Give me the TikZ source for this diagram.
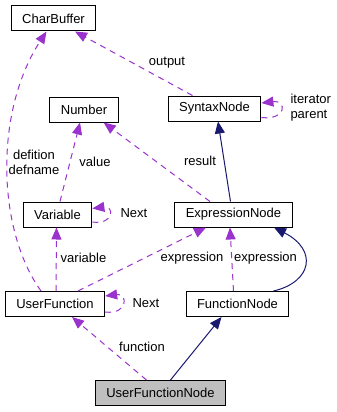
\documentclass[tikz,border=0pt]{standalone}
\usepackage{fontspec}
\setmainfont{Liberation Sans}
\usetikzlibrary{arrows.meta}
\definecolor{cpurple}{HTML}{9A32CD}
\definecolor{cnavy}{HTML}{191970}
\definecolor{cgrey}{HTML}{BFBFBF}
\tikzset{
  every picture/.style={font=\fontsize{13}{15}\selectfont, line width=1pt},
  cls/.style={draw=black, fill=#1, inner xsep=11pt, minimum height=25pt},
  cls/.default=white,
  uses/.style={-{Triangle[length=12pt, width=10pt]}, draw=cpurple, dash pattern=on 6pt off 5pt},
  isa/.style={-{Triangle[length=12pt, width=10pt]}, draw=cnavy},
  lbl/.style={inner sep=0pt, align=center},
}

\begin{document}
\begin{tikzpicture}[x=1pt, y=-1pt]
  \useasboundingbox (0,0) rectangle (337,412);
  % classes
  \node[cls] (cb) at (53.5,18.5) {CharBuffer};
  \node[cls] (num) at (84,109.5) {Number};
  \node[cls] (syn) at (214.5,108.5) {SyntaxNode};
  \node[cls] (var) at (57.5,214.5) {Variable};
  \node[cls] (expr) at (233.5,214.5) {ExpressionNode};
  \node[cls] (uf) at (55,304) {UserFunction};
  \node[cls] (fn) at (237.5,304) {FunctionNode};
  \node[cls=cgrey] (ufn) at (160.5,393) {UserFunctionNode};
  % inheritance
  \draw[isa] ([xshift=-3pt]expr.north) -- ([xshift=3.5pt]syn.south);
  \draw[isa] ([xshift=36pt]fn.north) .. controls (312,282) and (318,250) .. ([xshift=40.5pt]expr.south);
  \draw[isa] ([xshift=10pt]ufn.north) -- ([xshift=-16pt]fn.south);
  % members
  \draw[uses] ([xshift=-22pt]syn.north) -- ([xshift=21.5pt]cb.south);
  \node[lbl] (outlbl) at (167,63) {output};
  \draw[uses] ([yshift=-9pt]syn.east) .. controls +(25,3) and +(26,-3) .. ([yshift=5.5pt]syn.east);
  \node[lbl, align=left, anchor=west] (synlbl) at (290,108) {iterator\\parent};
  \draw[uses] ([xshift=-23.5pt]expr.north) -- ([xshift=-15pt]num.south east);
  \node[lbl] (reslbl) at (200,161) {result};
  \draw[uses] ([xshift=2.5pt]var.north) -- ([xshift=-4pt]num.south);
  \node[lbl] (vallbl) at (95,162) {value};
  \draw[uses] ([yshift=-7.5pt]var.east) .. controls +(22,3) and +(22,-3) .. ([yshift=6pt]var.east);
  \node[lbl, anchor=west] (varlbl) at (120,213) {Next};
  \draw[uses] ([xshift=-14pt]uf.north) .. controls (-3,230) and (-6,112) .. ([xshift=-7pt]cb.south);
  \node[lbl] (deflbl) at (34,162) {defition\\defname};
  \draw[uses] ([xshift=1pt]uf.north) -- ([xshift=-1pt]var.south);
  \node[lbl] (vlbl) at (83.5,258) {variable};
  \draw[uses] ([xshift=23pt]uf.north) -- ([xshift=-27.5pt]expr.south);
  \node[lbl] (exlbl) at (192,258) {expression};
  \draw[uses] ([yshift=-8pt]uf.east) .. controls +(23,3) and +(23,-3) .. ([yshift=8pt]uf.east);
  \node[lbl, anchor=west] (uflbl) at (132,303) {Next};
  \draw[uses] ([xshift=-4pt]fn.north) -- ([xshift=-3.5pt]expr.south);
  \node[lbl] (fexlbl) at (265.5,258) {expression};
  \draw[uses] ([xshift=-14pt]ufn.north) -- ([xshift=17pt]uf.south);
  \node[lbl] (funlbl) at (142,347) {function};
\end{tikzpicture}
\end{document}
